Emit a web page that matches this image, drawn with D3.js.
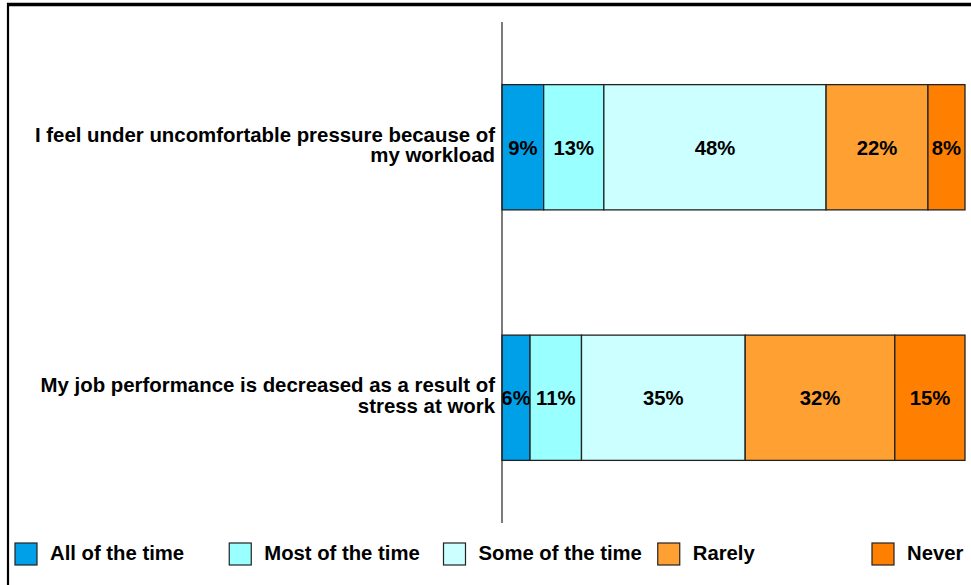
<!DOCTYPE html>
<html>
<head>
<meta charset="utf-8">
<script src="https://cdn.jsdelivr.net/npm/d3@7"></script>
<style>
  html, body { margin: 0; padding: 0; background: #fff; }
  svg { display: block; }
  text { font-family: "Liberation Sans", Arial, Helvetica, sans-serif; font-weight: bold; fill: #000; }
</style>
</head>
<body>
<svg id="chart" width="971" height="585"></svg>
<script>
// Survey statements (one stacked bar each)
const categories = [
  "I feel under uncomfortable pressure because of my workload",
  "My job performance is decreased as a result of stress at work"
];

// Response options, in stacking order
const seriesNames = ["All of the time", "Most of the time", "Some of the time", "Rarely", "Never"];
const seriesColors = ["#00A0E9", "#99FFFF", "#CCFFFF", "#FFA033", "#FF8000"];

// Percent of respondents per statement
const allOfTheTime  = [9, 6];
const mostOfTheTime = [13, 11];
const someOfTheTime = [48, 35];
const rarely        = [22, 32];
const never         = [8, 15];

const seriesValues = [allOfTheTime, mostOfTheTime, someOfTheTime, rarely, never];

// Build rows for d3.stack
const rows = categories.map((c, i) => {
  const r = { category: c };
  seriesNames.forEach((s, j) => { r[s] = seriesValues[j][i]; });
  return r;
});

const svg = d3.select("#chart");
const W = 971, H = 585;

// Outer frame (top and left edges)
svg.append("line").attr("x1", 7).attr("x2", W).attr("y1", 4.5).attr("y2", 4.5)
  .attr("stroke", "#000").attr("stroke-width", 3.5);
svg.append("line").attr("x1", 8).attr("x2", 8).attr("y1", 3).attr("y2", H)
  .attr("stroke", "#000").attr("stroke-width", 2.2);

const plot = { left: 502, right: 965, top: 22, bottom: 523 };

const x = d3.scaleLinear().domain([0, 1]).range([plot.left, plot.right]);
const y = d3.scaleBand().domain(categories).range([plot.top, plot.bottom])
  .paddingInner(0.5).paddingOuter(0.25);

const stack = d3.stack().keys(seriesNames).offset(d3.stackOffsetExpand);
const stacked = stack(rows);

// Bars
const layers = svg.append("g").selectAll("g")
  .data(stacked)
  .join("g")
  .attr("fill", (d, i) => seriesColors[i]);

layers.selectAll("rect")
  .data(d => d)
  .join("rect")
  .attr("x", d => x(d[0]))
  .attr("y", d => y(d.data.category))
  .attr("width", d => x(d[1]) - x(d[0]))
  .attr("height", y.bandwidth())
  .attr("stroke", "#222")
  .attr("stroke-width", 1.3);

// Value labels
layers.each(function (layer) {
  d3.select(this).selectAll("text")
    .data(layer)
    .join("text")
    .attr("x", d => (x(d[0]) + x(d[1])) / 2)
    .attr("y", d => y(d.data.category) + y.bandwidth() / 2)
    .attr("dy", "0.36em")
    .attr("text-anchor", "middle")
    .attr("font-size", 20.3)
    .text(d => d.data[layer.key] + "%");
});

// Category axis line
svg.append("line")
  .attr("x1", plot.left).attr("x2", plot.left)
  .attr("y1", plot.top).attr("y2", plot.bottom)
  .attr("stroke", "#222").attr("stroke-width", 1.2);

// Category labels, wrapped and right-aligned against the axis
const yAxis = d3.axisLeft(y).tickSize(0).tickPadding(7);
const axisG = svg.append("g").attr("transform", `translate(${plot.left},0)`).call(yAxis);
axisG.select(".domain").remove();
axisG.selectAll(".tick text")
  .attr("font-size", 20.4)
  .attr("font-family", null)
  .attr("fill", "#000")
  .call(wrap, 470);

function wrap(sel, maxWidth) {
  sel.each(function () {
    const t = d3.select(this);
    const words = t.text().split(/\s+/);
    const xPos = t.attr("x");
    t.text(null).attr("dy", null);
    const lines = [];
    let line = [];
    const probe = t.append("tspan");
    words.forEach(w => {
      line.push(w);
      probe.text(line.join(" "));
      if (probe.node().getComputedTextLength() > maxWidth && line.length > 1) {
        line.pop();
        lines.push(line.join(" "));
        line = [w];
      }
    });
    lines.push(line.join(" "));
    probe.remove();
    const lh = 20.5;
    const first = -((lines.length - 1) * lh) / 2 - 2.5;
    lines.forEach((l, i) => {
      t.append("tspan").attr("x", xPos).attr("y", first + i * lh).attr("dy", "0.36em").text(l);
    });
  });
}

// Legend
const legendX = d3.scalePoint().domain(seriesNames).range([15, 872]);
const legend = svg.append("g").selectAll("g")
  .data(seriesNames)
  .join("g")
  .attr("transform", d => `translate(${legendX(d)},543)`);

legend.append("rect")
  .attr("width", 22).attr("height", 22)
  .attr("fill", (d, i) => seriesColors[i])
  .attr("stroke", "#222").attr("stroke-width", 1.2);

legend.append("text")
  .attr("x", 35).attr("y", 17)
  .attr("font-size", 20.3)
  .text(d => d);
</script>
</body>
</html>
